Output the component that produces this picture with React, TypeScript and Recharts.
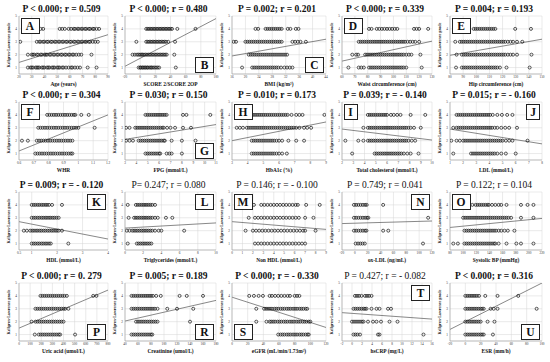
import React from 'react';
import { ScatterChart, Scatter, XAxis, YAxis, CartesianGrid, ReferenceLine } from 'recharts';

// x values of the patients at each Kellgren-Lawrence grade (index 0 = grade 1 ... 3 = grade 4)
const ageByGrade = [
  [27, 29, 30, 31, 33, 34, 35, 36, 38, 39, 40, 42, 43, 44, 46, 47, 48, 50, 51, 52, 54, 55, 57, 59, 61, 62, 64, 66, 68, 74, 81],
  [27, 30, 31, 32, 34, 35, 37, 38, 40, 41, 42, 44, 45, 47, 48, 50, 51, 53, 54, 56, 57, 59, 60, 62, 63, 65, 67, 69, 77],
  [21, 34, 36, 37, 39, 40, 42, 43, 45, 46, 48, 49, 51, 52, 54, 55, 57, 58, 60, 61, 63, 64, 66, 67, 69, 70, 72, 73, 75, 76, 78, 80, 82],
  [37, 39, 52, 54, 56, 59, 61, 63, 64, 66, 67, 69, 70, 72, 73, 75, 76, 78, 79, 81, 83],
];
const scoreByGrade = [
  [-2, 0, 1, 3, 4, 6, 7, 9, 10, 12, 14, 15, 17, 19, 21, 23, 25, 47],
  [-10, -7, -4, -2, 0, 2, 3, 5, 7, 9, 11, 13, 15, 17, 19, 21, 23, 25, 27, 29, 31, 33, 35, 45],
  [-5, 8, 10, 12, 14, 16, 18, 20, 22, 24, 26, 28, 30, 32, 34, 37, 46],
  [8, 10, 12, 14, 16, 18, 20, 22, 24, 26, 28, 30, 32, 34, 36, 38, 40, 42, 49, 73],
];
const bmiByGrade = [
  [19, 22, 22.6, 23.2, 23.8, 24.4, 25, 25.6, 26.2, 26.8, 27.4, 28, 28.6, 29.2, 29.8, 30.6, 31.6, 32.4, 33.2, 34],
  [21, 21.6, 22.2, 22.8, 23.4, 24, 24.6, 25.2, 25.8, 26.4, 27, 27.6, 28.2, 28.8, 29.4, 30, 30.6, 31.2, 31.8, 32.4],
  [16.5, 17.2, 20, 20.6, 21.2, 21.8, 22.4, 23, 23.6, 24.2, 24.8, 25.4, 26, 26.6, 27.2, 27.8, 28.4, 29, 29.6, 30.2, 30.8, 34, 34.8, 35.6, 36.4, 38],
  [23, 23.8, 26, 26.6, 27.2, 27.8, 28.4, 29, 29.6, 30.2, 30.8, 32.6, 33.4, 35, 35.8],
];
const waistByGrade = [
  [65, 73, 75, 77, 81, 82.5, 84, 85.5, 87, 88.5, 90, 91.5, 93, 94.5, 96, 97.5, 99, 100.5, 102, 103.5, 105, 106.5, 108, 110, 122],
  [68, 71, 72.5, 78, 79.5, 81, 82.5, 84, 85.5, 87, 88.5, 90, 91.5, 93, 94.5, 96, 97.5, 99, 100.5, 102, 103.5, 105, 106.5, 108, 110, 112, 114, 121],
  [73, 74.5, 76, 77.5, 79, 80.5, 82, 83.5, 85, 86.5, 88, 89.5, 91, 92.5, 94, 95.5, 97, 98.5, 100, 101.5, 103, 104.5, 106, 107.5, 109, 111, 113, 115, 117, 120],
  [81, 83, 87, 89, 91, 93, 95, 97, 99, 101, 103, 116, 118, 120, 127],
];
const hipByGrade = [
  [84.6, 89, 90.5, 92, 93.5, 95, 96.5, 98, 99.5, 101, 102.5, 104, 105.5, 107, 108.5, 110, 111.5, 113, 114.5, 116, 118, 123, 140.6],
  [85, 89, 90.5, 92, 93.5, 95, 96.5, 98, 99.5, 101, 102.5, 104, 105.5, 107, 108.5, 110, 111.5, 113, 114.5, 116, 117.5, 119, 120.5, 122, 124, 126, 128, 131, 142],
  [84, 87.5, 89, 90.5, 92, 93.5, 95, 96.5, 98, 99.5, 101, 102.5, 104, 105.5, 107, 108.5, 110, 111.5, 113, 114.5, 116, 117.5, 119, 120.5, 122, 124, 126, 128, 131, 135],
  [98, 99.5, 101, 102.5, 104, 105.5, 107, 108.5, 110, 111.5, 113, 114.5, 129.6, 141.6],
];
const whrByGrade = [
  [0.71, 0.725, 0.74, 0.755, 0.77, 0.785, 0.8, 0.815, 0.83, 0.845, 0.86, 0.875, 0.89, 0.905, 0.92, 0.935, 0.95, 0.96],
  [0.62, 0.66, 0.72, 0.735, 0.75, 0.765, 0.78, 0.795, 0.81, 0.825, 0.84, 0.855, 0.87, 0.885, 0.9, 0.915, 0.93, 0.945, 0.96],
  [0.73, 0.745, 0.76, 0.775, 0.79, 0.805, 0.82, 0.835, 0.85, 0.865, 0.88, 0.895, 0.91, 0.925, 0.94, 0.955, 0.97, 0.985, 1.0, 1.11],
  [0.79, 0.805, 0.82, 0.835, 0.85, 0.865, 0.88, 0.895, 0.91, 0.925, 0.94, 0.955, 0.97, 0.98, 1.02, 1.07],
];
const fpgByGrade = [
  [4.8, 4.97, 5.14, 5.31, 5.48, 5.65, 5.82, 6.0, 6.1, 6.66, 6.9, 7.1, 8.0],
  [3.1, 3.4, 3.7, 4.2, 4.37, 4.54, 4.71, 4.88, 5.05, 5.22, 5.39, 5.56, 5.73, 5.9, 6.07, 6.24, 6.41, 6.5, 7.1, 8.0, 9.2],
  [3.1, 3.4, 3.9, 4.07, 4.24, 4.41, 4.58, 4.75, 4.92, 5.09, 5.26, 5.43, 5.6, 5.77, 5.94, 6.11, 6.28, 6.4, 6.7, 7.0, 7.4, 8.1, 8.8],
  [4.8, 4.97, 5.14, 5.31, 5.48, 5.65, 5.82, 5.99, 6.16, 6.33, 6.5, 6.66, 8.1, 8.4, 10.5],
];
const hba1cByGrade = [
  [4.26, 4.39, 4.52, 4.65, 4.78, 4.91, 5.04, 5.17, 5.3, 5.43, 5.56, 5.69, 5.84, 6.0, 6.2, 6.5],
  [4.26, 4.39, 4.52, 4.65, 4.78, 4.91, 5.04, 5.17, 5.3, 5.43, 5.56, 5.69, 5.84, 6.0, 6.2, 6.6, 7.1, 7.6],
  [3.3, 3.5, 3.7, 3.95, 4.08, 4.21, 4.34, 4.47, 4.6, 4.73, 4.86, 4.99, 5.12, 5.25, 5.38, 5.51, 5.64, 5.77, 5.9, 6.03, 6.16, 6.29, 6.42, 6.55, 6.68, 6.81, 6.94, 7.1, 7.3, 7.6, 7.8, 8.05],
  [3.95, 4.08, 4.21, 4.34, 4.47, 4.6, 4.73, 4.86, 4.99, 5.12, 5.25, 5.38, 5.51, 5.64, 5.77, 5.9, 6.03, 6.16, 6.29, 6.42, 6.55, 6.8, 7.1, 7.3, 7.5, 8.9],
];
const tcByGrade = [
  [2.9, 4.9, 5.07, 5.24, 5.41, 5.58, 5.75, 5.92, 6.09, 6.26, 6.43, 6.6, 6.77, 6.94, 7.11, 7.28, 7.5, 7.8, 8.1, 8.8],
  [2.3, 3.45, 3.9, 4.3, 4.47, 4.64, 4.81, 4.98, 5.15, 5.32, 5.49, 5.66, 5.83, 6.0, 6.17, 6.34, 6.51, 6.68, 6.85, 7.02, 7.19, 7.36, 7.53, 7.7, 7.9, 8.2, 8.5],
  [3.9, 4.3, 4.47, 4.64, 4.81, 4.98, 5.15, 5.32, 5.49, 5.66, 5.83, 6.0, 6.17, 6.34, 6.51, 6.68, 6.85, 7.02, 7.19, 7.36, 7.53, 7.7, 7.9, 8.1, 8.4, 9.0],
  [4.3, 4.47, 4.64, 4.81, 4.98, 5.15, 5.32, 5.49, 5.66, 5.83, 6.0, 6.35, 6.6, 6.9, 7.2, 8.1, 9.4],
];
const ldlByGrade = [
  [1.25, 2.6, 2.75, 2.9, 3.05, 3.2, 3.35, 3.5, 3.65, 3.8, 3.95, 4.1, 4.25, 4.4, 4.6, 4.9, 5.25, 6.0],
  [1.1, 1.5, 1.75, 2.0, 2.15, 2.3, 2.45, 2.6, 2.75, 2.9, 3.05, 3.2, 3.35, 3.5, 3.65, 3.8, 3.95, 4.1, 4.25, 4.4, 4.55, 4.7, 4.85, 5.0, 5.25, 5.5, 5.75, 6.9],
  [1.25, 1.5, 1.65, 1.8, 1.95, 2.1, 2.25, 2.4, 2.55, 2.7, 2.85, 3.0, 3.15, 3.3, 3.45, 3.6, 3.75, 3.9, 4.05, 4.2, 4.4, 4.6, 4.9, 5.2, 5.5, 6.1],
  [1.5, 1.65, 1.8, 1.95, 2.1, 2.25, 2.4, 2.55, 2.7, 2.85, 3.0, 3.15, 3.3, 3.45, 3.6, 3.75, 3.9, 4.05, 4.25, 4.6, 4.95, 5.35, 5.75],
];
const hdlByGrade = [
  [1.0, 1.08, 1.15, 1.23, 1.3, 1.38, 1.45, 1.53, 1.6, 1.68, 1.75, 2.44],
  [0.69, 0.81, 0.94, 1.02, 1.09, 1.17, 1.24, 1.32, 1.39, 1.47, 1.54, 1.62, 1.69, 1.77, 1.84, 1.92, 1.99, 2.06, 2.19],
  [1.0, 1.08, 1.15, 1.23, 1.3, 1.38, 1.45, 1.53, 1.6, 1.68, 1.75, 1.83, 1.9, 1.98, 2.06],
  [1.0, 1.08, 1.15, 1.23, 1.3, 1.38, 1.45, 1.53, 1.6, 1.68, 1.8, 2.19],
];
const tgByGrade = [
  [0.3, 1.3, 1.5, 1.7, 1.9, 2.1, 2.3, 2.5, 2.7, 2.9],
  [0.2, 0.5, 0.8, 1.0, 1.2, 1.4, 1.6, 1.8, 2.0, 2.2, 2.4, 2.6, 2.8, 3.0, 3.3, 3.7, 4.0, 6.5],
  [0.4, 1.0, 1.2, 1.4, 1.6, 1.8, 2.0, 2.2, 2.4, 2.6, 2.8, 3.0, 3.3, 3.6, 4.5, 5.2],
  [0.3, 1.2, 1.4, 1.6, 1.8, 2.0, 2.2, 2.4, 2.6, 2.8, 3.0, 3.3],
];
const nonHdlByGrade = [
  [2.2, 2.5, 2.8, 3.1, 3.4, 3.7, 4.0, 4.3, 4.6, 4.9, 5.2, 5.5, 5.8, 6.1, 6.4, 6.7, 7.0],
  [1.3, 2.0, 2.3, 2.6, 2.9, 3.2, 3.5, 3.8, 4.1, 4.4, 4.7, 5.0, 5.3, 5.6, 5.9, 6.2, 6.5, 6.8, 7.0, 8.0],
  [1.6, 2.2, 2.5, 2.8, 3.1, 3.4, 3.7, 4.0, 4.3, 4.6, 4.9, 5.2, 5.5, 5.8, 6.1, 6.4, 7.0, 7.8],
  [2.1, 2.8, 3.1, 3.4, 3.7, 4.0, 4.3, 4.6, 4.9, 5.2, 5.5, 5.8, 6.1, 6.3, 7.1, 8.4],
];
const oxLdlByGrade = [
  [1.3, 5, 8.5, 12, 15.5, 106],
  [-1.4, 2, 5.5, 9, 12.5, 16, 18, 44, 52],
  [-1.4, 2, 5.5, 9, 12.5, 16, 19, 21, 114],
  [-1.4, 2, 5.5, 9, 12.5, 16, 18.4, 44],
];
const sbpByGrade = [
  [85, 92, 102, 105, 108, 111, 114, 117, 120, 123, 126, 129, 132, 135, 138, 141, 144, 147, 149, 154, 166, 181, 188, 207],
  [102, 105, 108, 111, 114, 117, 120, 123, 126, 129, 132, 135, 138, 141, 144, 147, 150, 154, 158, 163, 168, 178],
  [100, 103, 106, 109, 112, 115, 118, 121, 124, 127, 130, 133, 136, 139, 142, 145, 148, 151, 154, 157, 160, 163, 166, 169, 173, 188, 207],
  [109, 114, 119, 122, 125, 128, 131, 134, 137, 139, 144, 149, 154, 158, 166, 188, 198, 207],
];
const uricByGrade = [
  [142, 178, 196, 214, 232, 250, 268, 286, 304, 322, 340, 358, 370, 504],
  [113, 148, 166, 184, 202, 220, 238, 256, 274, 292, 310, 328, 346, 364, 382, 400],
  [148, 166, 184, 202, 220, 238, 256, 274, 292, 310, 328, 346, 364, 382, 400, 415, 444],
  [193, 211, 229, 247, 265, 283, 301, 319, 337, 355, 373, 391, 409, 430, 667, 696],
];
const creatByGrade = [
  [50, 53, 56, 59, 62, 65, 68, 71, 74, 77, 80, 82],
  [57, 60, 63, 66, 69, 72, 75, 78, 81, 84, 87, 90, 140],
  [50, 53, 56, 59, 62, 65, 68, 71, 74, 77, 80, 83, 86, 90, 105, 120, 145],
  [50, 53, 56, 59, 62, 65, 68, 71, 74, 77, 80, 83, 88, 95, 124, 135, 160],
];
const egfrByGrade = [
  [59, 62, 64.5, 67, 70, 72.5, 75, 78, 80.5, 83, 86, 88.5, 91, 94, 96.5, 98],
  [31, 44, 48, 50, 52.5, 55, 58, 60.5, 63, 66, 68.5, 71, 74, 76.5, 79, 82, 84.5, 87, 90, 92.5, 95, 98, 100],
  [31, 41, 43.5, 46, 48.5, 51, 54, 56.5, 59, 62, 64.5, 67, 70, 72.5, 75, 78, 80.5, 83, 86, 88.5, 91, 94, 96],
  [22, 28, 34, 39.5, 48, 51, 55, 59, 63, 67, 71, 74, 80, 83, 86],
];
const crpByGrade = [
  [0.3, 0.7, 1.1, 1.6, 5.2, 5.5, 14.3],
  [0, 0.4, 0.8, 1.2, 1.6, 2.0, 2.3, 3.2, 4.2, 4.9, 5.8, 7.5, 9.1],
  [0.3, 0.7, 1.1, 1.5, 1.9, 2.3, 2.6, 2.9, 3.9, 4.9, 5.5, 7.2, 7.8],
  [0.6, 1.0, 1.4, 1.9, 2.6, 3.0, 3.4, 3.9],
];
const esrByGrade = [
  [0, 2.5, 5, 7.5, 10, 12.5, 15, 17.5, 20, 22, 24, 36],
  [0, 2.5, 5, 7.5, 10, 12.5, 15, 17.5, 20, 29, 38],
  [0, 2.5, 5, 7.5, 10, 12.5, 15, 17.5, 20, 22, 24, 33, 37, 42, 93],
  [0, 2.5, 5, 7.5, 10, 12.5, 15, 17.8, 26, 42, 69],
];

// regression line: fitted grade at the left and right end of each x axis
const fitEnds = [
  [1.4, 3.55], [1.1, 4.8], [1.9, 3.2], [1.5, 3.05], [1.95, 3.2],
  [1.2, 4.0], [2.1, 3.25], [2.0, 3.45], [2.9, 2.05], [2.9, 1.75],
  [2.7, 1.35], [2.2, 2.6], [2.7, 2.1], [2.55, 2.75], [2.25, 2.95],
  [1.5, 4.45], [2.05, 3.65], [3.9, 1.55], [2.7, 2.2], [1.4, 5.0],
];

const titles = [
  'P < 0.000; r = 0.509', 'P < 0.000; r = 0.480', 'P = 0.002; r = 0.201', 'P < 0.000; r = 0.339', 'P = 0.004; r = 0.193',
  'P < 0.000; r = 0.304', 'P = 0.030; r = 0.150', 'P = 0.010; r = 0.173', 'P = 0.039; r = - 0.140', 'P = 0.015; r = - 0.160',
  'P = 0.009; r = - 0.120', 'P= 0.247; r = 0.080', 'P = 0.146; r = - 0.100', 'P = 0.749; r = 0.041', 'P = 0.122; r = 0.104',
  'P < 0.000; r = 0. 279', 'P = 0.005; r = 0.189', 'P < 0.000; r = - 0.330', 'P = 0.427; r = - 0.082', 'P < 0.000; r = 0.316',
];
const significant = [true, true, true, true, true, true, true, true, true, true, true, false, false, false, false, true, true, true, false, true];
const letters = ['A', 'B', 'C', 'D', 'E', 'F', 'G', 'H', 'I', 'J', 'K', 'L', 'M', 'N', 'O', 'P', 'R', 'S', 'T', 'U'];
const xTitles = [
  'Age (years)', 'SCORE 2/SCORE 2OP', 'BMI (kg/m²)', 'Waist circumference (cm)', 'Hip circumference (cm)',
  'WHR', 'FPG (mmol/L)', 'HbA1c (%)', 'Total cholesterol (mmol/L)', 'LDL (mmol/L)',
  'HDL (mmol/L)', 'Triglycerides (mmol/L)', 'Non HDL (mmol/L)', 'ox-LDL (ng/mL)', 'Systolic BP (mmHg)',
  'Uric acid (umol/L)', 'Creatinine (umol/L)', 'eGFR (mL/min/1.73m²)', 'hsCRP (mg/L)', 'ESR (mm/h)',
];
const xTicks = [
  [20, 30, 40, 50, 60, 70, 80, 90], [-20, 0, 20, 40, 60, 80, 100], [16, 20, 24, 28, 32, 36, 40, 44],
  [60, 70, 80, 90, 100, 110, 120, 130], [80, 90, 100, 110, 120, 130, 140, 150],
  [0.6, 0.7, 0.8, 0.9, 1.0, 1.1, 1.2], [3, 4, 5, 6, 7, 8, 9, 10, 11], [3, 4, 5, 6, 7, 8, 9],
  [2, 3, 4, 5, 6, 7, 8, 9, 10], [1, 2, 3, 4, 5, 6, 7, 8],
  [0.5, 1, 2, 3, 4], [0, 2, 4, 6, 8, 10], [0, 1, 2, 3, 4, 5, 6, 7, 8, 9],
  [-20, 0, 20, 40, 60, 80, 100, 120], [80, 100, 120, 140, 160, 180, 200, 220],
  [0, 100, 200, 300, 400, 500, 600, 700, 800], [40, 60, 80, 100, 120, 140, 160, 180], [0, 20, 40, 60, 80, 100, 120],
  [-2, 0, 2, 4, 6, 8, 10, 12, 14, 16], [-20, 0, 20, 40, 60, 80, 100],
];
const gradeTicks = [1, 2, 3, 4, 5];
const allGrades = [
  ageByGrade, scoreByGrade, bmiByGrade, waistByGrade, hipByGrade,
  whrByGrade, fpgByGrade, hba1cByGrade, tcByGrade, ldlByGrade,
  hdlByGrade, tgByGrade, nonHdlByGrade, oxLdlByGrade, sbpByGrade,
  uricByGrade, creatByGrade, egfrByGrade, crpByGrade, esrByGrade,
];

// layout
const colLeft = [19, 125, 232, 342, 450];
const colWidth = [89, 91, 94, 90, 92];
const rowTop = [16, 102, 192, 283];
const PH = 58;
const YW = 6;
const XH = 7;
const TM = 3;
const LM = 2;
const RM = 6;
const boxPos = ['tl', 'br', 'br', 'tl', 'tl', 'tl', 'br', 'tl', 'tl', 'tr', 'tr', 'tr', 'tl', 'tr', 'tl', 'br', 'br', 'bl', 'tr', 'br'];
const serif = '"Liberation Serif", "DejaVu Serif", serif';

const Dot = (props: any) => (
  <circle cx={props.cx} cy={props.cy} r={1.5} fill="none" stroke="#111" strokeWidth={0.7} />
);

function Panel({ i }: { i: number }) {
  const col = i % 5;
  const row = Math.floor(i / 5);
  const left = colLeft[col];
  const w = colWidth[col];
  const top = rowTop[row];
  const ticks = xTicks[i];
  const x0 = ticks[0];
  const x1 = ticks[ticks.length - 1];
  const data = allGrades[i].flatMap((xs, g) => xs.map((x) => ({ x, y: g + 1 })));
  const bw = letters[i] === 'I' || letters[i] === 'J' ? 14 : 19;
  const bh = 16;
  const pos = boxPos[i];
  const bLeft = pos.endsWith('l') ? left + 1.5 : left + w - bw - 2;
  const bTop = pos.startsWith('t') ? top + 2 : top + PH - bh - 1;
  return (
    <>
      <div style={{ position: 'absolute', left: left + w / 2 - 62, width: 120, top: top - 12, textAlign: 'center', fontSize: 9.5, lineHeight: '11px', fontWeight: significant[i] ? 'bold' : 'normal', whiteSpace: 'nowrap' }}>
        {titles[i]}
      </div>
      <div style={{ position: 'absolute', left: left - YW - LM, top: top - TM }}>
        <ScatterChart width={LM + YW + w + RM} height={TM + PH + XH} margin={{ top: TM, right: RM, bottom: 0, left: LM }}>
          <CartesianGrid stroke="#d4d4d4" strokeWidth={0.5} />
          <XAxis type="number" dataKey="x" domain={[x0, x1]} ticks={ticks} interval={0} allowDataOverflow height={XH}
            tick={{ fontSize: 3.4, fill: '#333', fontFamily: serif }} tickLine={false} tickSize={1} tickMargin={1} axisLine={{ stroke: '#a0a0a0', strokeWidth: 0.6 }} />
          <YAxis type="number" dataKey="y" domain={[0.5, 5]} ticks={gradeTicks} interval={0} allowDataOverflow width={YW}
            tick={{ fontSize: 3.4, fill: '#333', fontFamily: serif }} tickLine={false} tickSize={1} tickMargin={1} axisLine={{ stroke: '#a0a0a0', strokeWidth: 0.6 }} />
          <Scatter data={data} shape={Dot} isAnimationActive={false} />
          <ReferenceLine segment={[{ x: x0, y: fitEnds[i][0] }, { x: x1, y: fitEnds[i][1] }]} stroke="#555" strokeWidth={0.7} ifOverflow="hidden" />
        </ScatterChart>
      </div>
      <div style={{ position: 'absolute', left: left - 10 - 30, top: top + PH / 2 - 3, width: 60, height: 6, lineHeight: '6px', textAlign: 'center', fontSize: 4.1, fontWeight: 'bold', whiteSpace: 'nowrap', transform: 'rotate(-90deg)' }}>
        Kellgren-Lawrence grade
      </div>
      <div style={{ position: 'absolute', left: left + w / 2 - 50, width: 100, top: top + PH + 7, textAlign: 'center', fontSize: 5.4, lineHeight: '6px', fontWeight: 'bold', whiteSpace: 'nowrap' }}>
        {xTitles[i]}
      </div>
      <div style={{ position: 'absolute', left: bLeft, top: bTop, width: bw, height: bh, boxSizing: 'border-box', border: '1.3px solid #222', background: '#fff', textAlign: 'center', fontSize: 11.5, lineHeight: `${bh - 2}px`, fontWeight: 'bold' }}>
        {letters[i]}
      </div>
    </>
  );
}

export default function App() {
  return (
    <div style={{ position: 'absolute', left: 0, top: 0, width: 550, height: 362, background: '#fff', fontFamily: serif, color: '#111', overflow: 'hidden' }}>
      {letters.map((_, i) => (
        <Panel key={i} i={i} />
      ))}
    </div>
  );
}
